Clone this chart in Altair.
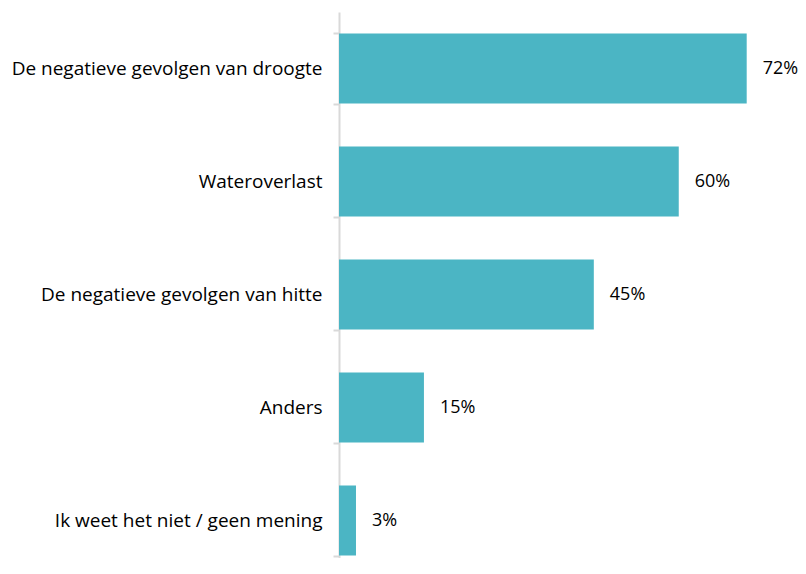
import altair as alt
import pandas as pd

categories = [
    "De negatieve gevolgen van droogte",
    "Wateroverlast",
    "De negatieve gevolgen van hitte",
    "Anders",
    "Ik weet het niet / geen mening",
]
values = [72, 60, 45, 15, 3]

df = pd.DataFrame({"cat": categories, "val": values})
df["label"] = df["val"].astype(str) + "%"

FONT = "Open Sans"

y = alt.Y("cat:N", sort=categories, title=None,
          scale=alt.Scale(paddingInner=0.38, paddingOuter=0.19, range=[0, 565]),
          axis=alt.Axis(domainColor="#d9d9d9", domainWidth=2, tickColor="#d9d9d9",
                        tickWidth=2, tickSize=6, tickBand="extent",
                        labelFont=FONT, labelFontSize=19, labelColor="#000000",
                        labelPadding=11, labelLimit=400))
x = alt.X("val:Q", scale=alt.Scale(domain=[0, 80]), axis=None)

bars = alt.Chart(df).mark_bar(color="#4BB5C4").encode(x=x, y=y)
text = alt.Chart(df).mark_text(align="left", dx=16, fontSize=18, font=FONT, color="#000000").encode(
    x=x, y=alt.Y("cat:N", sort=categories), text="label:N")

chart = (bars + text).properties(
    width=453, height=546,
    autosize=alt.AutoSizeParams(type="none"),
    padding={"left": 331, "top": 4, "right": 6, "bottom": 0},
).configure_view(stroke=None).configure_axis(grid=False)

chart.save("out.html", embed_options={"renderer": "svg", "actions": False})
